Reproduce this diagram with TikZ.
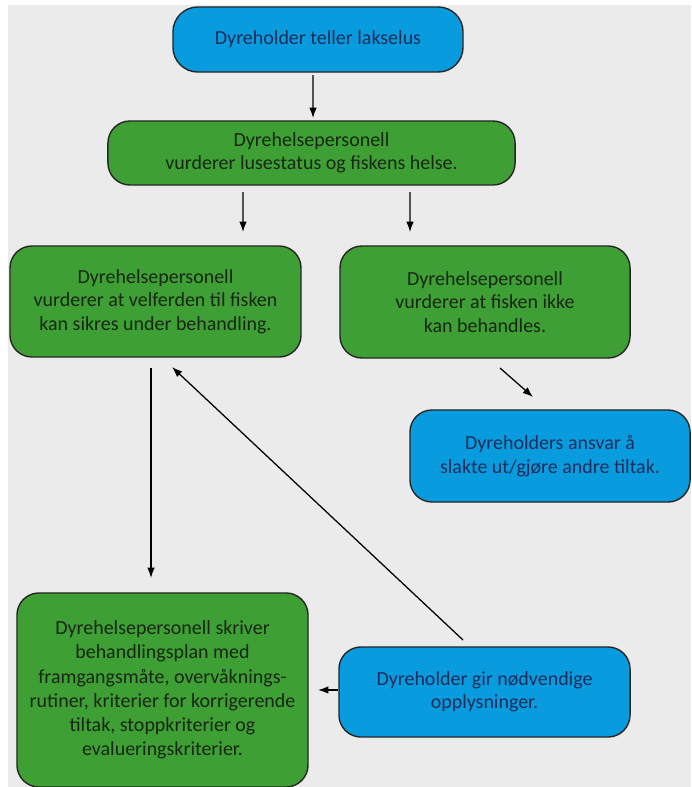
\documentclass[tikz,border=0pt]{standalone}
\usepackage{fontspec}
\setmainfont{Carlito}
\usepackage{tikz}
\usetikzlibrary{positioning,arrows.meta}

\definecolor{bgGray}{RGB}{235,235,235}
\definecolor{boxBlue}{RGB}{8,156,222}
\definecolor{boxGreen}{RGB}{62,160,52}
\definecolor{txtBlue}{RGB}{28,45,92}
\definecolor{txtGreen}{RGB}{24,38,20}

\begin{document}
\begin{tikzpicture}[x=0.025cm,y=-0.025cm,
    box/.style={draw=black!85, line width=1pt, rounded corners=0.55cm, align=center,
      inner sep=0pt, outer sep=0pt, font=\fontsize{14.2}{16.6}\selectfont},
    bluebox/.style={box, fill=boxBlue, text=txtBlue},
    greenbox/.style={box, fill=boxGreen, text=txtGreen},
    arr/.style={-{Latex[length=2.6mm,width=1.9mm]}, line width=0.9pt}]
    \useasboundingbox (0,0) rectangle (691,787);
    \fill[bgGray] (8,5) rectangle (691,787);

    % boxes
    \node[bluebox, minimum width=7.25cm, minimum height=1.625cm, rounded corners=0.62cm] (telling) at (318,39.5)
      {Dyreholder teller lakselus};
    \node[greenbox, minimum width=10.175cm, minimum height=1.6cm] (vurdering) at (311.5,153)
      {Dyrehelsepersonell\\vurderer lusestatus og fiskens helse.};
    \node[greenbox, minimum width=7.275cm, minimum height=2.775cm] (kanbehandles) at (155.5,301.5)
      {Dyrehelsepersonell\\vurderer at velferden til fisken\\kan sikres under behandling.};
    \node[greenbox, minimum width=7.25cm, minimum height=2.8cm] (ikkebehandles) at (485,302)
      {Dyrehelsepersonell\\vurderer at fisken ikke\\kan behandles.};
    \node[bluebox, minimum width=7cm, minimum height=2.3cm] (slakt) at (550,456)
      {Dyreholders ansvar å\\slakte ut/gjøre andre tiltak.};
    \node[greenbox, minimum width=7.275cm, minimum height=4.85cm,
      font=\fontsize{14.2}{17.2}\selectfont] (plan) at (162.5,690)
      {Dyrehelsepersonell skriver\\behandlingsplan med\\framgangsmåte, overvåknings-\\rutiner, kriterier for korrigerende\\tiltak, stoppkriterier og\\evalueringskriterier.};
    \node[bluebox, minimum width=7.275cm, minimum height=2.25cm] (opplysninger) at (484.5,692)
      {Dyreholder gir nødvendige\\opplysninger.};

    % arrows
    \draw[arr] ([shift={(-5,3)}]telling.south) -- ([shift={(1.5,-3)}]vurdering.north);
    \draw[arr] ([shift={(-68.5,7)}]vurdering.south) -- ([shift={(87.5,-14)}]kanbehandles.north);
    \draw[arr] ([shift={(98.5,7)}]vurdering.south) -- ([shift={(-75,-14)}]ikkebehandles.north);
    \draw[arr] ([shift={(15,10)}]ikkebehandles.south) -- ([shift={(-17,-13)}]slakt.north);
    \draw[arr] ([shift={(-4.5,11)}]kanbehandles.south) -- ([shift={(-11.5,-15)}]plan.north);
    \draw[arr] ([shift={(-21.5,-7)}]opplysninger.north) -- ([shift={(16.5,10)}]kanbehandles.south);
    \draw[arr] ([shift={(-1,-2)}]opplysninger.west) -- ([shift={(10,0)}]plan.east);
\end{tikzpicture}
\end{document}
